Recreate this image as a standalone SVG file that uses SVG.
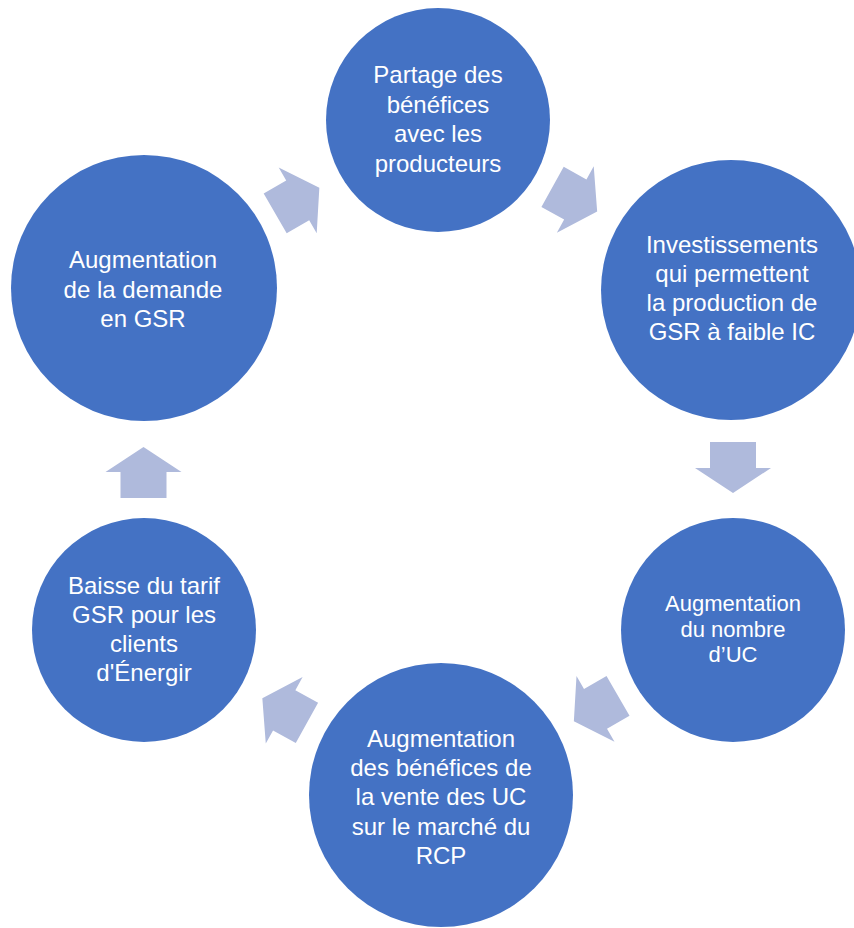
<svg xmlns="http://www.w3.org/2000/svg" width="854" height="928" viewBox="0 0 854 928">
<style>
.node{fill:#4472C4}
.lbl{fill:#FFFFFF;font-family:"Liberation Sans",Arial,sans-serif;font-size:24px;text-anchor:middle}
.sm{font-size:22px}
.arr{fill:#AFBADC}
</style>
<defs>
<path id="arrow" d="M -26,-23 L 0,-23 L 0,-38 L 25,0 L 0,38 L 0,23 L -26,23 Z"/>
</defs>
<rect width="854" height="928" fill="#FFFFFF"/>
<g id="connectors">
<use href="#arrow" class="arr" transform="translate(297.7,200.3) rotate(-30)"/>
<use href="#arrow" class="arr" transform="translate(575.3,199.5) rotate(29)"/>
<use href="#arrow" class="arr" transform="translate(733,468) rotate(90)"/>
<use href="#arrow" class="arr" transform="translate(595.5,708.8) rotate(150)"/>
<use href="#arrow" class="arr" transform="translate(284.2,710.3) rotate(-151)"/>
<use href="#arrow" class="arr" transform="translate(143.5,472) rotate(-90)"/>
</g>
<g id="node-partage">
<circle class="node" cx="438" cy="120" r="112"/>
<text class="lbl"><tspan x="438" y="83.3">Partage des</tspan><tspan x="438" y="112.8">bénéfices</tspan><tspan x="438" y="142.3">avec les</tspan><tspan x="438" y="171.8">producteurs</tspan></text>
</g>
<g id="node-investissements">
<circle class="node" cx="731" cy="290" r="130"/>
<text class="lbl"><tspan x="732" y="253.3">Investissements</tspan><tspan x="732" y="282.3">qui permettent</tspan><tspan x="732" y="311.3">la production de</tspan><tspan x="732" y="340.3">GSR à faible IC</tspan></text>
</g>
<g id="node-uc">
<circle class="node" cx="733" cy="630" r="112"/>
<text class="lbl sm"><tspan x="733" y="611">Augmentation</tspan><tspan x="733" y="636.7">du nombre</tspan><tspan x="733" y="662.4">d’UC</tspan></text>
</g>
<g id="node-benefices">
<circle class="node" cx="441" cy="795" r="132"/>
<text class="lbl"><tspan x="441" y="746.7">Augmentation</tspan><tspan x="441" y="776">des bénéfices de</tspan><tspan x="441" y="805.3">la vente des UC</tspan><tspan x="441" y="834.6">sur le marché du</tspan><tspan x="441" y="863.9">RCP</tspan></text>
</g>
<g id="node-baisse">
<circle class="node" cx="144" cy="630" r="112"/>
<text class="lbl"><tspan x="144" y="594">Baisse du tarif</tspan><tspan x="144" y="623">GSR pour les</tspan><tspan x="144" y="652">clients</tspan><tspan x="144" y="681">d'Énergir</tspan></text>
</g>
<g id="node-demande">
<circle class="node" cx="144" cy="288" r="133"/>
<text class="lbl"><tspan x="143" y="268">Augmentation</tspan><tspan x="143" y="297.5">de la demande</tspan><tspan x="143" y="327">en GSR</tspan></text>
</g>
</svg>
